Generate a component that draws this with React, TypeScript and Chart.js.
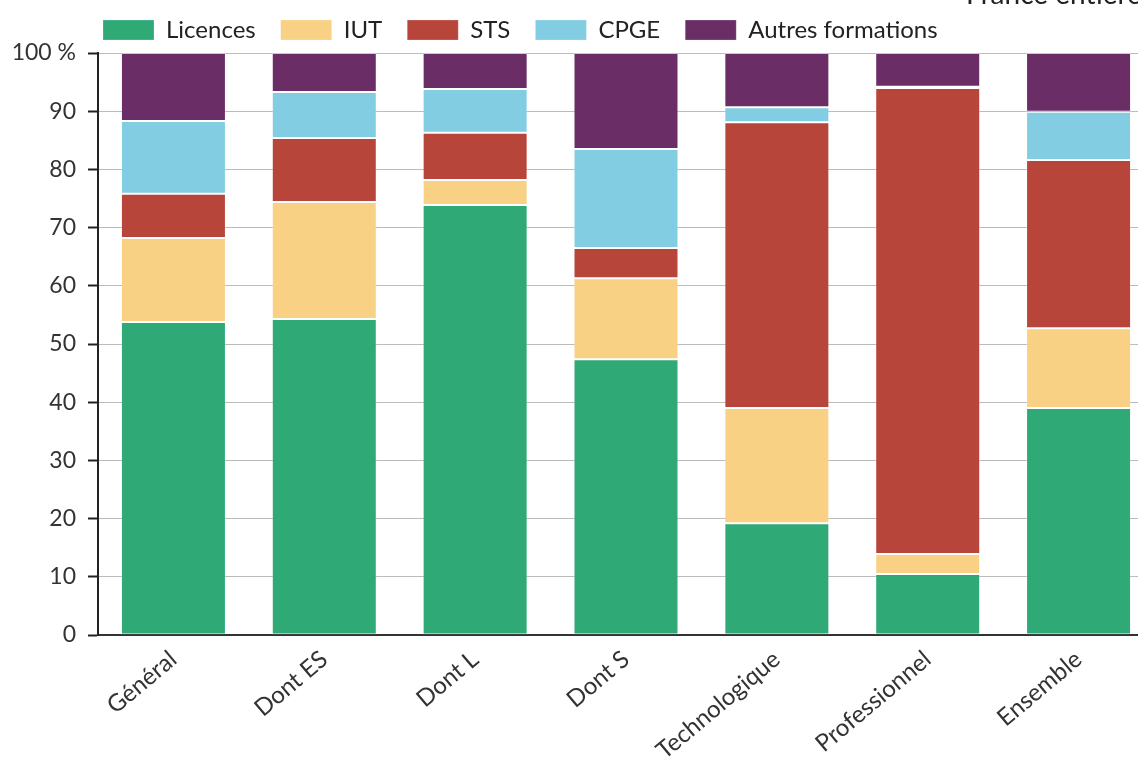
import React, { useEffect, useRef } from 'react';
import { Chart, registerables } from 'chart.js';

Chart.register(...registerables);

const categories = ['Général', 'Dont ES', 'Dont L', 'Dont S', 'Technologique', 'Professionnel', 'Ensemble'];
const seriesNames = ['Licences', 'IUT', 'STS', 'CPGE', 'Autres formations'];
const licences = [53.8, 54.3, 73.9, 47.4, 19.2, 10.5, 39.0];
const iut = [14.4, 20.1, 4.3, 13.9, 19.8, 3.4, 13.7];
const sts = [7.6, 11.0, 8.1, 5.2, 49.1, 80.1, 28.9];
const cpge = [12.5, 7.9, 7.5, 17.0, 2.6, 0.2, 8.3];
const autres = [11.7, 6.7, 6.2, 16.5, 9.3, 5.8, 10.1];
const seriesColors = ['#2faa77', '#f8d185', '#b8453a', '#82cde2', '#6a2d66'];
const yMax = 100;
const yStep = 10;
const topRightText = 'France entière';

const FONT = 'Lato';

export default function App() {
  const ref = useRef<HTMLCanvasElement | null>(null);

  useEffect(() => {
    if (!ref.current) return;
    const values = [licences, iut, sts, cpge, autres];
    const legendPad = 25;

    const layoutPlugin = {
      id: 'layoutTweaks',
      afterInit(chart: any) {
        const lg = chart.legend;
        if (lg && !lg.__patched) {
          const orig = lg.fit.bind(lg);
          lg.fit = function () {
            orig();
            lg.height = 53;
          };
          lg.__patched = true;
        }
      },
      afterLayout(chart: any) {
        const lg = chart.legend;
        if (lg) {
          lg.left = 103 - legendPad;
          lg.top = 18 - legendPad;
        }
      },
      afterDraw(chart: any) {
        const ctx = chart.ctx;
        ctx.save();
        ctx.font = `28px ${FONT}`;
        ctx.fillStyle = '#222';
        ctx.textAlign = 'left';
        ctx.textBaseline = 'alphabetic';
        ctx.fillText(topRightText, 966, 4);
        ctx.restore();
      },
    };

    const chart = new Chart(ref.current, {
      type: 'bar',
      data: {
        labels: categories,
        datasets: seriesNames.map((name, i) => ({
          label: name,
          data: values[i],
          backgroundColor: seriesColors[i],
          borderColor: 'rgba(255,255,255,0.22)',
          borderWidth: 1,
          borderSkipped: false,
          barPercentage: 0.696,
          categoryPercentage: 1,
        })),
      },
      options: {
        animation: false,
        responsive: true,
        maintainAspectRatio: false,
        layout: { padding: { top: 0, left: 0, right: 0, bottom: 0 } },
        plugins: {
          legend: {
            display: true,
            position: 'top',
            align: 'start',
            labels: {
              boxWidth: 51,
              boxHeight: 20,
              padding: legendPad,
              color: '#222',
              font: { family: FONT, size: 24 },
            },
          },
          tooltip: { enabled: false },
        },
        scales: {
          x: {
            stacked: true,
            offset: true,
            afterFit(scale: any) {
              scale.height = 125;
            },
            grid: { display: false },
            border: { display: true, color: '#333', width: 2 },
            ticks: {
              color: '#333',
              font: { family: FONT, size: 24 },
              minRotation: 40,
              maxRotation: 40,
              padding: 2,
            },
          },
          y: {
            stacked: true,
            min: 0,
            max: yMax,
            afterFit(scale: any) {
              scale.width = 98;
            },
            grid: { color: '#bbbbbb', lineWidth: 1, tickLength: 10, tickColor: '#222', tickWidth: 2 },
            border: { display: true, color: '#222', width: 2 },
            ticks: {
              stepSize: yStep,
              color: '#333',
              padding: 12,
              font: { family: FONT, size: 23 },
              callback: (v: any) => (v === yMax ? '100 %' : String(v)),
            },
          },
        },
      },
      plugins: [layoutPlugin],
    });
    return () => chart.destroy();
  }, []);

  return (
    <div style={{ position: 'fixed', left: 0, top: 0, width: 1138, height: 760, overflow: 'hidden', background: '#fff' }}>
      <div style={{ position: 'relative', width: 1154, height: 760 }}>
        <canvas ref={ref} />
      </div>
    </div>
  );
}
